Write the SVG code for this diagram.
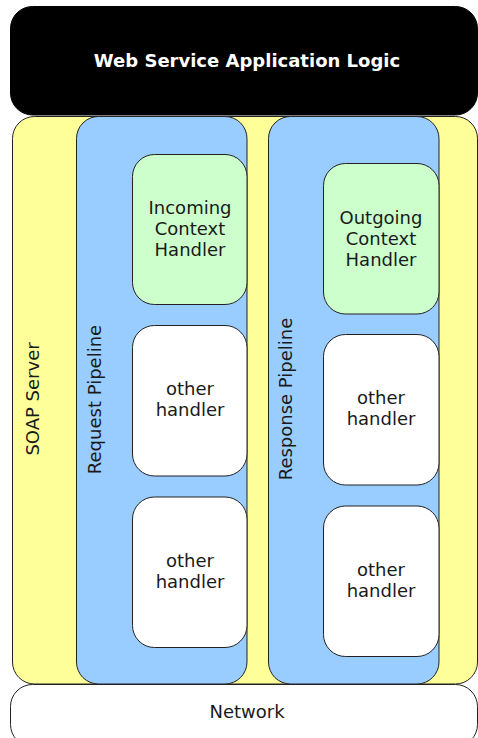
<svg xmlns="http://www.w3.org/2000/svg" width="478" height="738" viewBox="0 0 478 738">
<style>
.box{stroke:#222;stroke-width:1}
.app{fill:#000;stroke:#000}
.soap{fill:#ffff99}
.pipe{fill:#99ccff}
.ctx{fill:#ccffcc}
.oth{fill:#fff}
.net{fill:#fff}
text{font-family:"DejaVu Sans","Liberation Sans",sans-serif;font-size:18px;fill:#1a1a1a;text-anchor:middle}
.title{font-weight:bold;fill:#fff}
</style>
<rect width="478" height="738" fill="#fff"/>
<g id="app">
<rect class="box app" x="10.5" y="6.5" width="467" height="108.5" rx="22" ry="22"/>
<text class="title" x="247" y="67">Web Service Application Logic</text>
</g>
<g id="soap-server">
<rect class="box soap" x="12.5" y="116.5" width="465" height="567.5" rx="22" ry="22"/>
<text x="39" y="399" transform="rotate(-90 39 399)">SOAP Server</text>
</g>
<g id="request-pipeline">
<rect class="box pipe" x="76.5" y="116.5" width="170.5" height="567.5" rx="22" ry="22"/>
<text x="100.5" y="399.5" transform="rotate(-90 100.5 399.5)">Request Pipeline</text>
</g>
<g id="response-pipeline">
<rect class="box pipe" x="268.5" y="116.5" width="170.5" height="567.5" rx="22" ry="22"/>
<text x="292" y="399" transform="rotate(-90 292 399)">Response Pipeline</text>
</g>
<g id="incoming-context-handler">
<rect class="box ctx" x="132.5" y="154.5" width="114.5" height="150" rx="22" ry="22"/>
<text x="190" y="214">Incoming</text>
<text x="190" y="235">Context</text>
<text x="190" y="256">Handler</text>
</g>
<g id="request-other-handler-1">
<rect class="box oth" x="132.5" y="325.5" width="114.5" height="150.5" rx="22" ry="22"/>
<text x="190" y="395">other</text>
<text x="190" y="416">handler</text>
</g>
<g id="request-other-handler-2">
<rect class="box oth" x="132.5" y="497" width="114.5" height="150.5" rx="22" ry="22"/>
<text x="190" y="566.5">other</text>
<text x="190" y="587.5">handler</text>
</g>
<g id="outgoing-context-handler">
<rect class="box ctx" x="323.5" y="163.5" width="115.5" height="150.5" rx="22" ry="22"/>
<text x="381" y="223.5">Outgoing</text>
<text x="381" y="244.5">Context</text>
<text x="381" y="265.5">Handler</text>
</g>
<g id="response-other-handler-1">
<rect class="box oth" x="323.5" y="334.5" width="115.5" height="150.5" rx="22" ry="22"/>
<text x="381" y="404">other</text>
<text x="381" y="425">handler</text>
</g>
<g id="response-other-handler-2">
<rect class="box oth" x="323.5" y="506" width="115.5" height="150.5" rx="22" ry="22"/>
<text x="381" y="576">other</text>
<text x="381" y="597">handler</text>
</g>
<g id="network">
<rect class="box net" x="10.5" y="684.5" width="467" height="62" rx="22" ry="22"/>
<text x="247" y="718">Network</text>
</g>
<g id="connectors"></g>
</svg>
